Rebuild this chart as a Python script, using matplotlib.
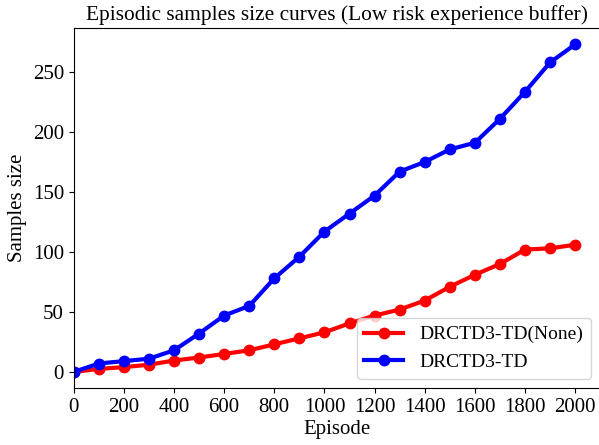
import matplotlib
matplotlib.use("Agg")
import matplotlib.pyplot as plt

episodes = [0, 100, 200, 300, 400, 500, 600, 700, 800, 900, 1000,
            1100, 1200, 1300, 1400, 1500, 1600, 1700, 1800, 1900, 2000]
td_none = [0, 2.5, 4, 6, 9.5, 12, 15, 18, 23, 28, 33,
           40.5, 47, 52, 59.5, 71, 81, 90, 102, 103, 106]
td = [0, 7, 9, 11, 18, 32, 47, 55, 78, 96, 117,
      132, 147, 167, 175, 185.5, 191, 211, 233.5, 258, 273]

plt.rcParams['font.family'] = ['Liberation Serif', 'DejaVu Serif']
plt.rcParams['font.size'] = 15

fig = plt.figure(figsize=(5.99, 4.45), dpi=100)
W, H = 599, 445
left, right, top, bottom = 73.7, 600.3, 28, 388.3
ax = fig.add_axes([left / W, (H - bottom) / H, (right - left) / W, (bottom - top) / H])

ax.plot(episodes, td_none, color='red', marker='o', linewidth=3, markersize=7.5,
        label='DRCTD3-TD(None)')
ax.plot(episodes, td, color='blue', marker='o', linewidth=3, markersize=7.5,
        label='DRCTD3-TD')

ax.set_xlim(0, 2100)
ax.set_xticks(range(0, 2001, 200))
ax.set_yticks(range(0, 251, 50))
ax.set_xlabel('Episode', labelpad=2)
ax.set_ylabel('Samples size')
ax.set_title('Episodic samples size curves (Low risk experience buffer)', fontsize=15.4)
ax.legend(loc='lower right', fontsize=14)

fig.savefig('out.png', dpi=100)
